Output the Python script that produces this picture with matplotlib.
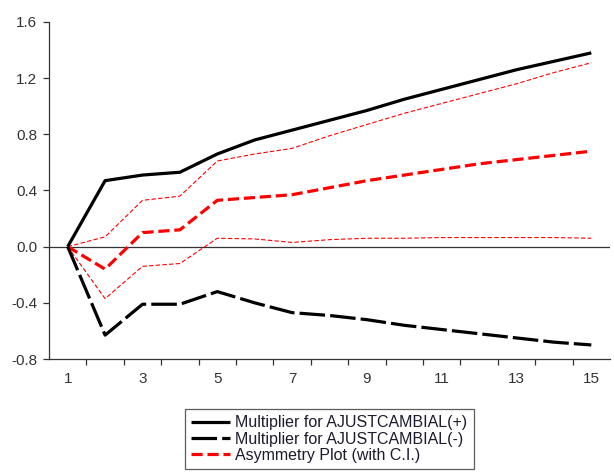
import matplotlib
matplotlib.use("Agg")
import matplotlib.pyplot as plt
import numpy as np

plt.rcParams['font.family'] = ['Liberation Sans', 'DejaVu Sans']

periods = list(range(1, 16))
mult_pos = [0.00, 0.47, 0.51, 0.53, 0.66, 0.76, 0.83, 0.90, 0.97, 1.05, 1.12, 1.19, 1.26, 1.32, 1.38]
mult_neg = [0.00, -0.63, -0.41, -0.41, -0.32, -0.40, -0.47, -0.49, -0.52, -0.56, -0.59, -0.62, -0.65, -0.68, -0.70]
asym = [0.00, -0.16, 0.10, 0.12, 0.33, 0.35, 0.37, 0.42, 0.47, 0.51, 0.55, 0.59, 0.62, 0.65, 0.68]
asym_upper = [0.00, 0.07, 0.33, 0.36, 0.61, 0.66, 0.70, 0.79, 0.87, 0.95, 1.02, 1.09, 1.16, 1.24, 1.31]
asym_lower = [0.00, -0.37, -0.14, -0.12, 0.06, 0.055, 0.03, 0.05, 0.06, 0.06, 0.065, 0.065, 0.065, 0.065, 0.06]

y_ticks = [-0.8, -0.4, 0.0, 0.4, 0.8, 1.2, 1.6]
x_labels = [1, 3, 5, 7, 9, 11, 13, 15]

fig = plt.figure(figsize=(6.14, 4.75), dpi=100)
ax = fig.add_axes([0.0798, 0.2442, 0.9137, 0.7095])

ax.axhline(0, color='#333333', lw=0.9, zorder=1)

l1, = ax.plot(periods, mult_pos, color='black', lw=2.3, solid_capstyle='butt',
              label='Multiplier for AJUSTCAMBIAL(+)', zorder=3)
l2, = ax.plot(periods, mult_neg, color='black', lw=2.3, dashes=(8, 1.6),
              label='Multiplier for AJUSTCAMBIAL(-)', zorder=3)
l3, = ax.plot(periods, asym, color='#ff0000', lw=2.3, dashes=(3.5, 1.5),
              label='Asymmetry Plot (with C.I.)', zorder=2)
ax.plot(periods, asym_upper, color='#ff0000', lw=0.8, dashes=(4, 2), zorder=2)
ax.plot(periods, asym_lower, color='#ff0000', lw=0.8, dashes=(4, 2), zorder=2)

ax.set_xlim(0.5, 15.5)
ax.set_ylim(-0.8, 1.6)

ax.set_yticks(y_ticks)
ax.set_yticklabels([f"{v:.1f}" for v in y_ticks])

# tick marks sit between observations; labels sit on odd periods
ax.set_xticks(np.arange(1.5, 15.0, 1.0))
ax.set_xticklabels([])
ax.set_xticks(x_labels, minor=True)
ax.set_xticklabels([str(v) for v in x_labels], minor=True)
ax.tick_params(axis='x', which='minor', length=0, pad=9)
ax.tick_params(axis='x', which='major', length=4.5, width=0.9, direction='out', color='#333333')
ax.tick_params(axis='y', length=4.5, width=0.9, direction='out', color='#333333', pad=4)
ax.tick_params(labelsize=11, labelcolor='#333333', which='both')

for s in ['top', 'right']:
    ax.spines[s].set_visible(False)
for s in ['left', 'bottom']:
    ax.spines[s].set_color('#333333')
    ax.spines[s].set_linewidth(0.9)

leg = fig.legend(handles=[l1, l2, l3], loc='upper left',
                 bbox_to_anchor=(185 / 614, 1 - 409 / 475),
                 fontsize=11.5, frameon=True, fancybox=False,
                 handlelength=2.4, handletextpad=0.35, borderpad=0.4,
                 labelspacing=0.08, borderaxespad=0.0)
leg.get_frame().set_edgecolor('#333333')
leg.get_frame().set_linewidth(0.9)
for t in leg.get_texts():
    t.set_color('#1c1c2e')

fig.savefig('out.png', dpi=100)
